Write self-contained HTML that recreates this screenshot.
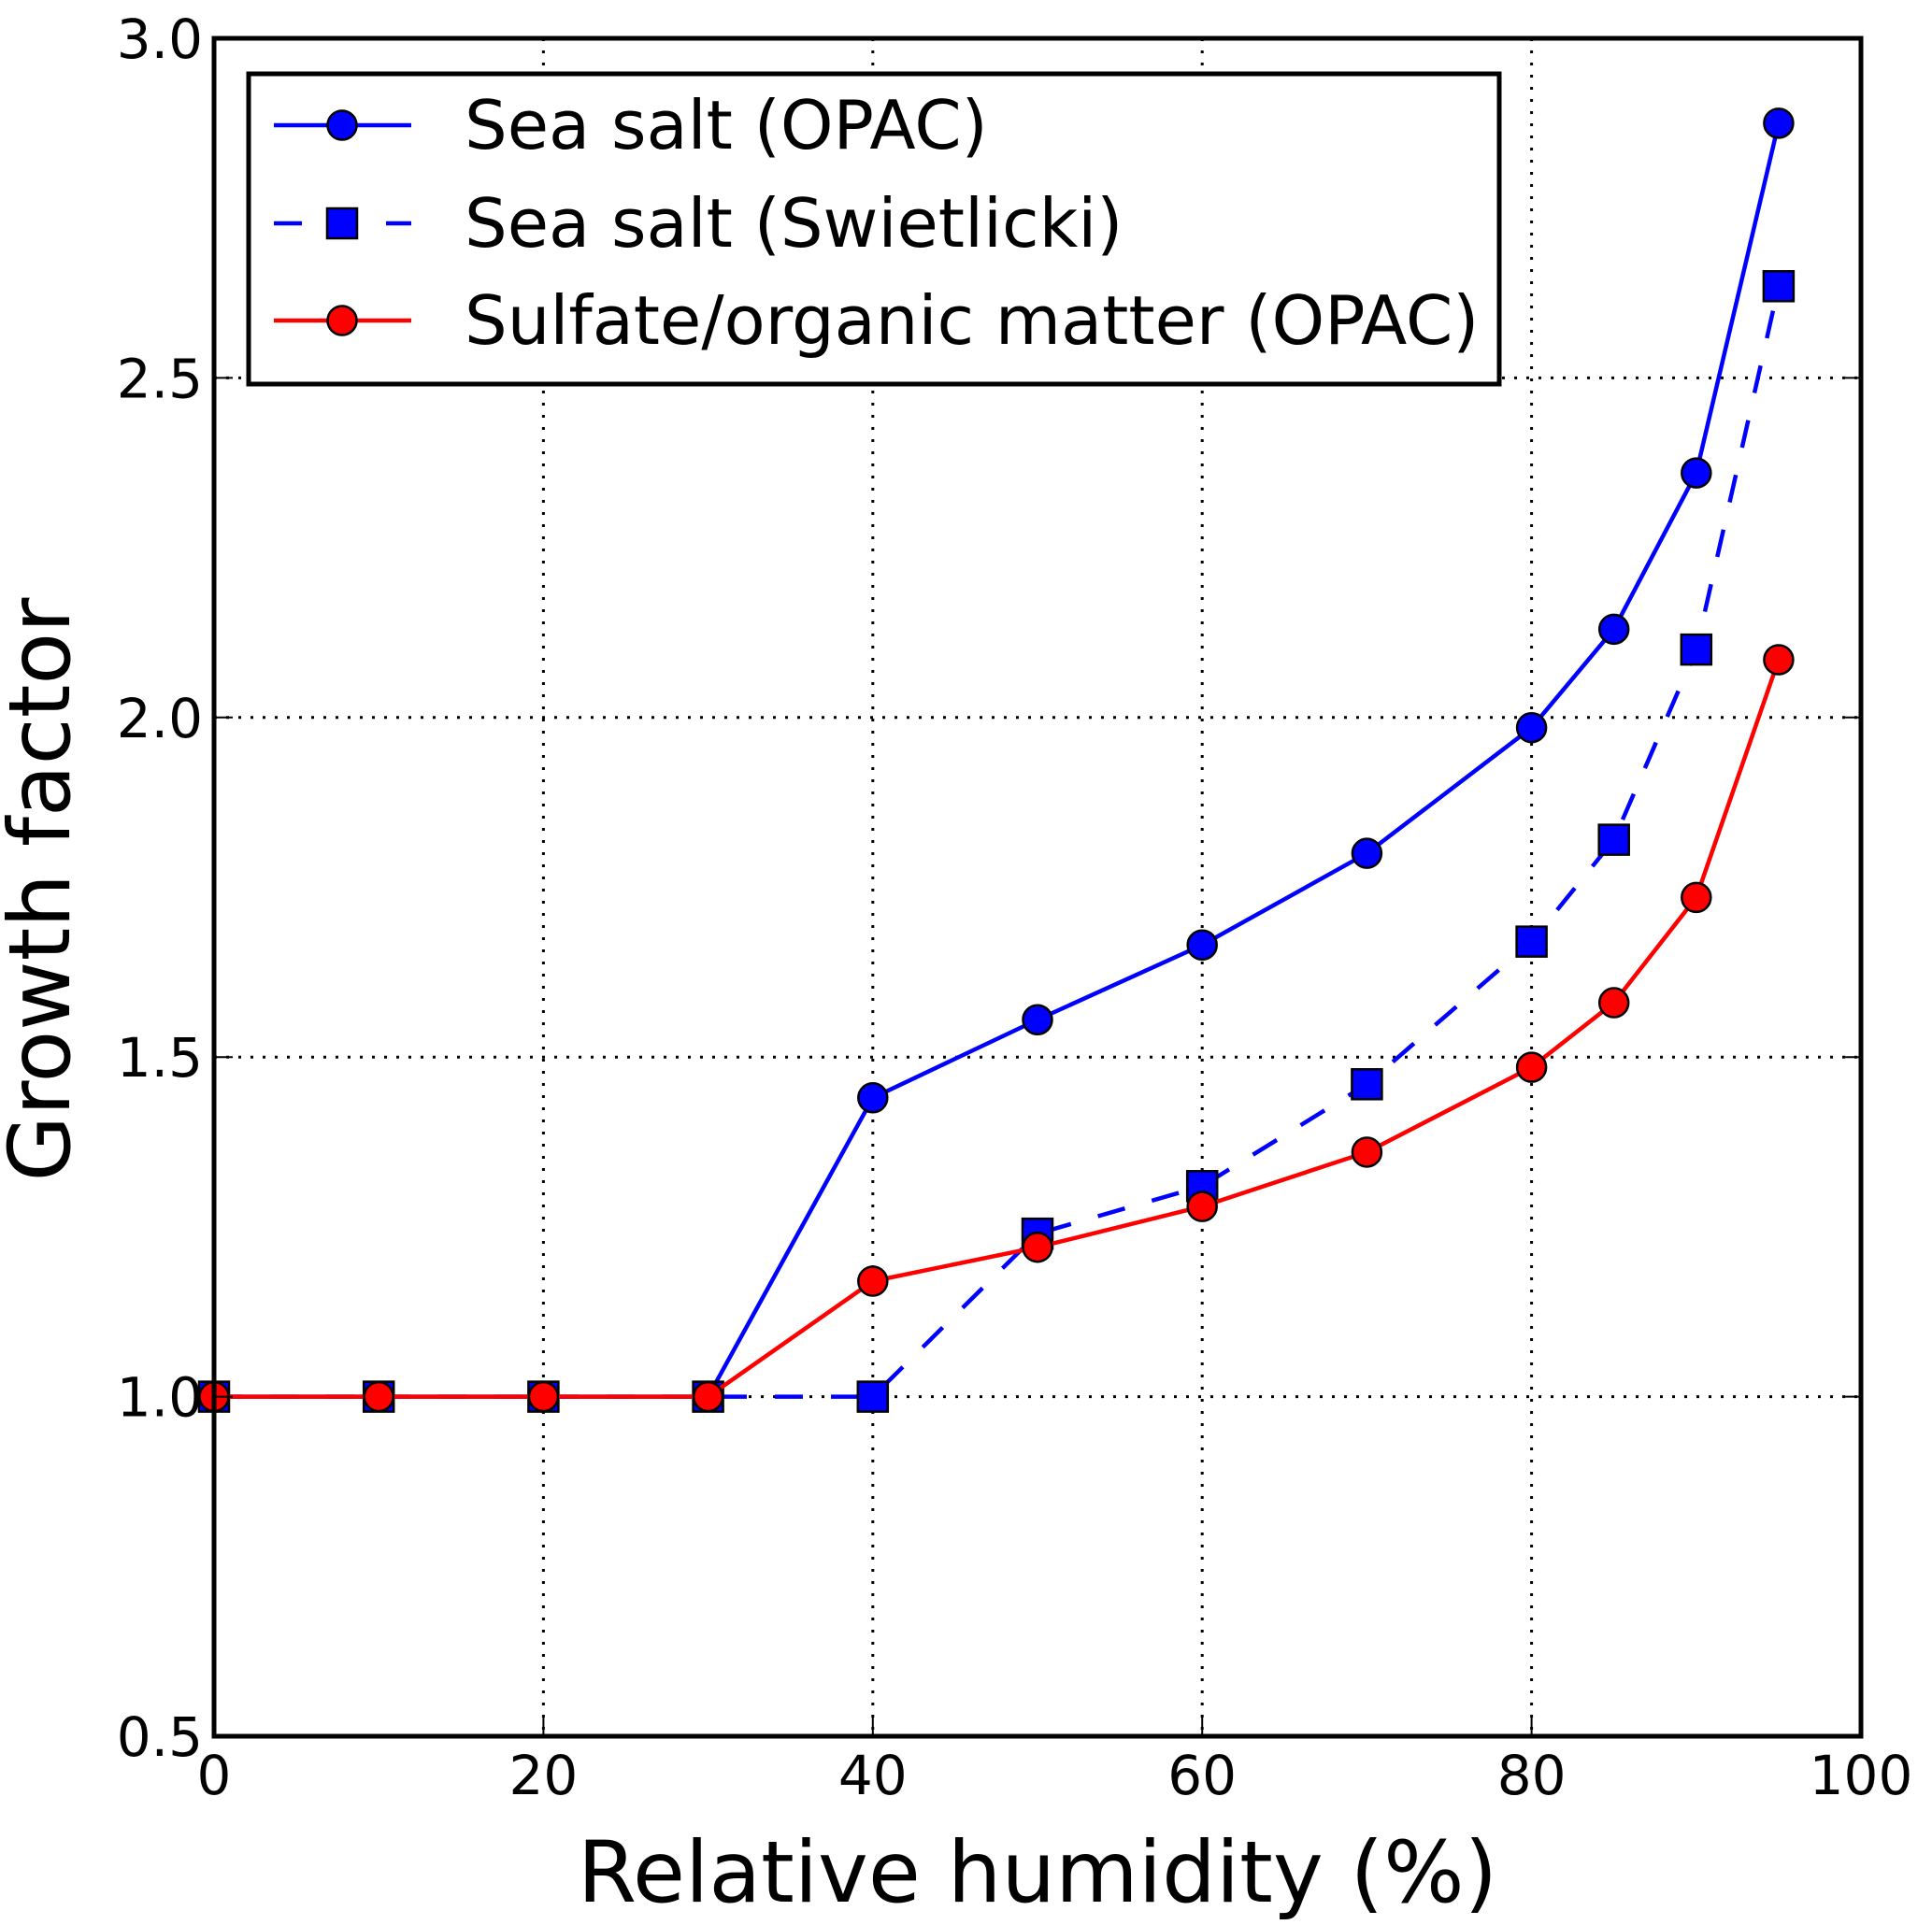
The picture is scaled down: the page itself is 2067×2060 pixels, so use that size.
<!DOCTYPE html>
<html><head><meta charset="utf-8"><style>
body{margin:0;background:#fff;}
svg{display:block;font-family:"DejaVu Sans","Liberation Sans",sans-serif;}
</style></head><body>
<svg id="chart" width="2067" height="2060" viewBox="0 0 2067 2060" xmlns="http://www.w3.org/2000/svg">
<g id="grid"></g>
<g id="series"></g>
<rect x="229" y="41" width="1762" height="1817" fill="none" stroke="#000" stroke-width="5"/>
<g id="ticks"></g>
<text x="1110" y="2035" font-size="91" text-anchor="middle">Relative humidity (%)</text>
<text transform="translate(74,952) rotate(-90)" font-size="91" text-anchor="middle">Growth factor</text>
<g>
<rect x="266" y="79" width="1338" height="332" fill="#fff" stroke="#000" stroke-width="5"/>
<g>
<line x1="293" y1="134" x2="440" y2="134" stroke="#0000ff" stroke-width="4.5"/>
<circle cx="366" cy="134" r="15.5" fill="#0000ff" stroke="#000" stroke-width="2.5"/>
<text x="497" y="159" font-size="72">Sea salt (OPAC)</text></g>
<g>
<line x1="293" y1="239" x2="440" y2="239" stroke="#0000ff" stroke-width="4.5" stroke-dasharray="30,30"/>
<rect x="350" y="223" width="32" height="32" fill="#0000ff" stroke="#000" stroke-width="2.5"/>
<text x="497" y="264" font-size="72">Sea salt (Swietlicki)</text></g>
<g>
<line x1="293" y1="343" x2="440" y2="343" stroke="#ff0000" stroke-width="4.5"/>
<circle cx="366" cy="343" r="15.5" fill="#ff0000" stroke="#000" stroke-width="2.5"/>
<text x="497" y="368" font-size="72">Sulfate/organic matter (OPAC)</text></g>
</g>
</svg>
<script>
const rh = [0,10,20,30,40,50,60,70,80,85,90,95];
const seaSaltOpac = [1,1,1,1,1.44,1.555,1.665,1.8,1.985,2.13,2.36,2.875];
const seaSaltSwiet = [1,1,1,1,1,1.24,1.31,1.46,1.67,1.82,2.1,2.635];
const sulfateOpac = [1,1,1,1,1.17,1.22,1.28,1.36,1.485,1.58,1.735,2.085];
const xTicks = [0,20,40,60,80,100];
const yTicks = [0.5,1.0,1.5,2.0,2.5,3.0];
const X0=229,X1=1991,Y0=1858,Y1=41;
function xs(v){return X0+(v-0)/(100-0)*(X1-X0);}
function ys(v){return Y0-(v-0.5)/(3.0-0.5)*(Y0-Y1);}
const NS='http://www.w3.org/2000/svg';
function mk(tag,attrs,parent){const e=document.createElementNS(NS,tag);for(const k in attrs)e.setAttribute(k,attrs[k]);parent.appendChild(e);return e;}
const grid=document.getElementById('grid'),ticks=document.getElementById('ticks'),ser=document.getElementById('series');
xTicks.forEach(t=>{
 const g=mk('line',{x1:xs(t),x2:xs(t),y1:Y1,y2:Y0,stroke:'#000','stroke-width':3,'stroke-dasharray':'3,10'},grid);
 
 
 const tk=mk('line',{x1:xs(t),x2:xs(t),y1:Y0,y2:Y0-20,stroke:'#000','stroke-width':2},ticks);
 
 
 const tl=mk('text',{x:xs(t),y:Y0+62,'font-size':58,'text-anchor':'middle'},ticks);
 tl.textContent=String(t);
 
 
});
yTicks.forEach(t=>{
 const g=mk('line',{x1:X0,x2:X1,y1:ys(t),y2:ys(t),stroke:'#000','stroke-width':3,'stroke-dasharray':'3,10'},grid);
 
 
 const tk=mk('line',{x1:X0,x2:X0+20,y1:ys(t),y2:ys(t),stroke:'#000','stroke-width':2},ticks);
 
 
 const tk2=mk('line',{x1:X1,x2:X1-20,y1:ys(t),y2:ys(t),stroke:'#000','stroke-width':2},ticks);
 
 
 const tl=mk('text',{x:X0-12,y:ys(t)+21,'font-size':58,'text-anchor':'end'},ticks);
 tl.textContent=t.toFixed(1);
 
 
});
function series(vals,color,dash,marker,name){
 const pts=rh.map((x,i)=>xs(x)+','+ys(vals[i])).join(' ');
 const attrs={points:pts,fill:'none',stroke:color,'stroke-width':4.5};
 if(dash)attrs['stroke-dasharray']=dash;
 const pl=mk('polyline',attrs,ser);
 
 
 rh.forEach((x,i)=>{
  let m;
  if(marker==='circle') m=mk('circle',{cx:xs(x),cy:ys(vals[i]),r:15.5,fill:color,stroke:'#000','stroke-width':2.5},ser);
  else m=mk('rect',{x:xs(x)-16,y:ys(vals[i])-16,width:32,height:32,fill:color,stroke:'#000','stroke-width':2.5},ser);
  
  
 });
}
series(seaSaltOpac,'#0000ff',null,'circle','sea-salt-opac');
series(seaSaltSwiet,'#0000ff','30,30','square','sea-salt-swietlicki');
series(sulfateOpac,'#ff0000',null,'circle','sulfate-organic');
</script>
</body></html>
